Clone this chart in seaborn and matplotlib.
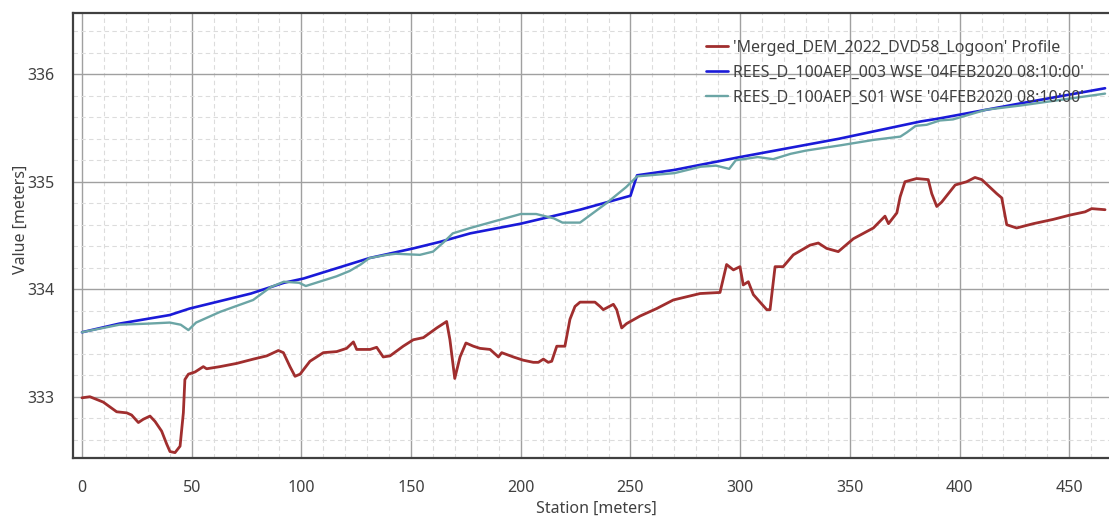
import numpy as np
import pandas as pd
import seaborn as sns
import matplotlib.pyplot as plt
from matplotlib.ticker import MultipleLocator

## data
dem_station = [0, 3.6, 9.7, 15.8, 20.4, 22.6, 25.7, 27.9, 31, 33.3, 36.3, 38.6, 40.1, 42.4, 44.7,
               46.2, 46.9, 48.5, 51.5, 55.3, 56.8, 62.9, 70.5, 78.1, 84.2, 89.5, 91.8, 94.8, 97.1,
               99.4, 103.9, 110, 116.1, 120.6, 123.7, 125.2, 131.3, 134.3, 137.3, 140.4, 146.4, 151,
               155.6, 161.7, 166.2, 167.7, 169.9, 172.3, 175, 178.4, 181.4, 186, 189.8, 191.3, 196.6,
               201.1, 205.7, 208, 210.3, 212.5, 214.1, 216.4, 220.1, 222.4, 224.7, 227, 233.8, 236.1,
               237.6, 242.2, 243.7, 246, 248.2, 254.3, 261.9, 269.5, 281.7, 290.8, 293.8, 296.9, 299.9,
               301.4, 303.7, 306, 312.1, 313.6, 315.9, 319.6, 324.2, 331.8, 335.6, 339.4, 344.7, 351.6,
               360.7, 366, 367.6, 371.4, 372.9, 375.1, 380.4, 385.7, 387.3, 389.6, 391.8, 398, 403.2,
               407, 410.1, 416.9, 419.2, 421.5, 426, 433.6, 442.7, 450.3, 457.2, 460.2, 466.3]
dem_elev = [332.99, 333.0, 332.95, 332.86, 332.85, 332.83, 332.76, 332.79, 332.82, 332.77, 332.68,
            332.56, 332.49, 332.48, 332.54, 332.85, 333.16, 333.21, 333.23, 333.28, 333.26, 333.28,
            333.31, 333.35, 333.38, 333.43, 333.41, 333.28, 333.19, 333.21, 333.33, 333.41, 333.42,
            333.45, 333.51, 333.44, 333.44, 333.46, 333.37, 333.38, 333.47, 333.53, 333.55, 333.64,
            333.70, 333.53, 333.17, 333.37, 333.50, 333.47, 333.45, 333.44, 333.37, 333.41, 333.37,
            333.34, 333.32, 333.32, 333.35, 333.32, 333.33, 333.47, 333.47, 333.72, 333.84, 333.88,
            333.88, 333.84, 333.81, 333.86, 333.81, 333.64, 333.68, 333.75, 333.82, 333.90, 333.96,
            333.97, 334.23, 334.18, 334.21, 334.04, 334.07, 333.95, 333.81, 333.81, 334.21, 334.21,
            334.32, 334.41, 334.43, 334.38, 334.35, 334.47, 334.57, 334.68, 334.61, 334.71, 334.86,
            335.0, 335.03, 335.02, 334.89, 334.77, 334.81, 334.97, 335.0, 335.04, 335.02, 334.89,
            334.85, 334.60, 334.57, 334.61, 334.65, 334.69, 334.72, 334.75, 334.74]

wse003_station = [0, 17, 40, 49, 77, 92, 101, 131, 151, 163, 177, 200, 227, 250, 253, 270, 300,
                  345, 382, 391, 428, 466.3]
wse003 = [333.60, 333.68, 333.76, 333.82, 333.96, 334.06, 334.10, 334.29, 334.38, 334.44, 334.52,
          334.61, 334.74, 334.87, 335.06, 335.11, 335.23, 335.40, 335.56, 335.59, 335.73, 335.87]

s01_station = [0, 17, 30, 40, 45, 48.5, 52, 63, 78, 86, 92, 99, 102, 116, 122, 127, 131, 139, 143,
               154, 160, 165, 169, 177, 200, 207, 215, 219, 227, 239, 248, 253, 270, 282, 289, 295,
               298, 308, 315, 323, 330, 346, 361, 373, 376, 380, 385, 391, 397, 412, 428, 466.3]
s01 = [333.60, 333.67, 333.68, 333.69, 333.67, 333.62, 333.69, 333.79, 333.90, 334.02, 334.07,
       334.06, 334.03, 334.12, 334.17, 334.23, 334.29, 334.32, 334.33, 334.32, 334.35, 334.44,
       334.52, 334.57, 334.70, 334.70, 334.66, 334.62, 334.62, 334.80, 334.95, 335.05, 335.08,
       335.14, 335.15, 335.12, 335.20, 335.23, 335.21, 335.26, 335.29, 335.34, 335.39, 335.42,
       335.46, 335.52, 335.53, 335.57, 335.58, 335.67, 335.71, 335.82]

labels = ["'Merged_DEM_2022_DVD58_Logoon' Profile",
          "REES_D_100AEP_003 WSE '04FEB2020 08:10:00'",
          "REES_D_100AEP_S01 WSE '04FEB2020 08:10:00'"]

sns.set_style("white")
plt.rcParams['font.family'] = ['Noto Sans', 'DejaVu Sans']
txt = '#404040'

fig = plt.figure(figsize=(11.09, 5.18), dpi=100)
ax = fig.add_axes([73 / 1109, 1 - 458 / 518, 1 - 73 / 1109, 445 / 518])

sns.lineplot(x=dem_station, y=dem_elev, ax=ax, color='#a02e2e', linewidth=2.0, label=labels[0])
sns.lineplot(x=wse003_station, y=wse003, ax=ax, color='#1a1ad8', linewidth=1.9, label=labels[1])
sns.lineplot(x=s01_station, y=s01, ax=ax, color='#6ba5a5', linewidth=1.7, label=labels[2])

ax.set_xlim(-4.1, 468.1)
ax.set_ylim(332.43, 336.57)
ax.xaxis.set_major_locator(MultipleLocator(50))
ax.xaxis.set_minor_locator(MultipleLocator(10))
ax.yaxis.set_major_locator(MultipleLocator(1))
ax.yaxis.set_minor_locator(MultipleLocator(0.2))
ax.grid(which='major', color='#a0a0a0', linewidth=1.0, linestyle='-')
ax.grid(which='minor', color='#dcdcdc', linewidth=0.8, linestyle=(0, (4, 3)))
ax.set_axisbelow(True)

ax.tick_params(axis='both', which='both', direction='out', colors='#303030', labelcolor=txt,
               labelsize=11.5)
ax.tick_params(axis='x', which='major', length=8, width=1.2, pad=8)
ax.tick_params(axis='x', which='minor', length=5, width=1.0)
ax.tick_params(axis='y', which='major', length=12, width=1.2, pad=1.5)
ax.tick_params(axis='y', which='minor', length=5, width=1.0)
ax.yaxis.set_major_formatter(plt.FuncFormatter(lambda v, p: f"{v:.0f}"))

for side in ['left', 'bottom', 'top']:
    ax.spines[side].set_color('#404040')
    ax.spines[side].set_linewidth(1.6)
ax.spines['right'].set_visible(False)

ax.set_xlabel('Station [meters]', fontsize=11.5, color=txt)
ax.set_ylabel('Value [meters]', fontsize=11.5, color=txt)
ax.xaxis.set_label_coords(0.505, -0.097)
ax.yaxis.set_label_coords(-0.043, 0.537)

ax.legend(loc='upper left', bbox_to_anchor=(706 / 1109, 1 - 40 / 518), bbox_transform=fig.transFigure,
          frameon=False, fontsize=11.5, labelcolor=txt, handlelength=1.4, handletextpad=0.3,
          borderpad=0, borderaxespad=0, labelspacing=0.55)

fig.savefig('out.png', dpi=100)
